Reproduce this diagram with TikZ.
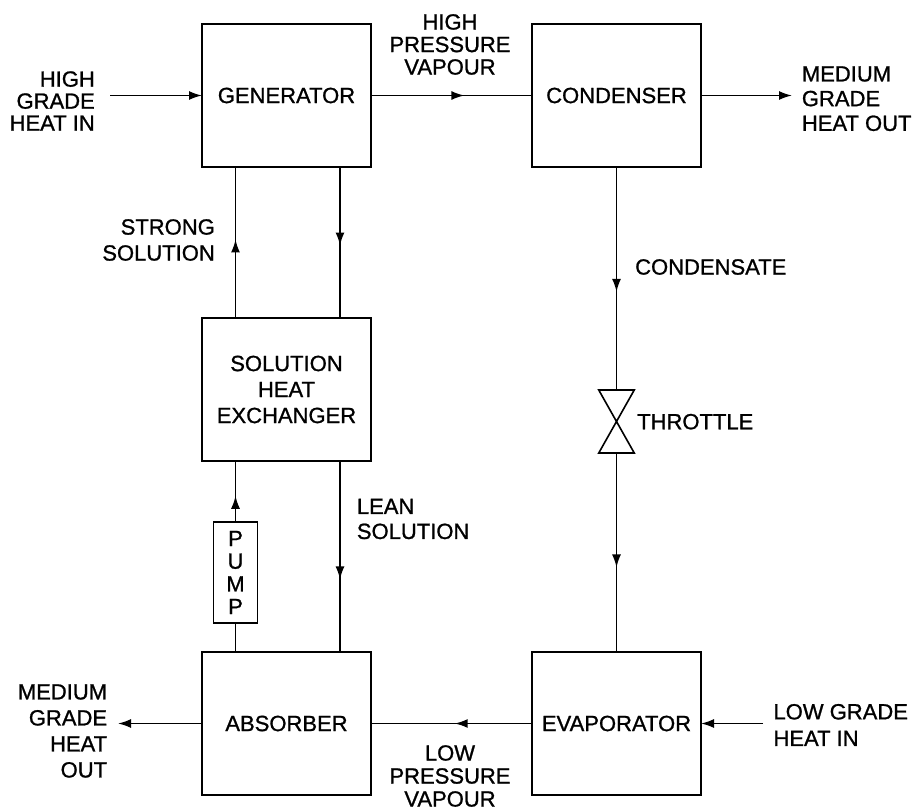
\documentclass[tikz,border=0pt]{standalone}
\usepackage{fontspec}
\setmainfont{Liberation Sans}[BoldFont={Liberation Sans},BoldFeatures={FakeBold=1.0}]
\usetikzlibrary{arrows.meta,decorations.markings}
\begin{document}
\begin{tikzpicture}[x=1pt,y=-1pt,
  every node/.style={font=\fontsize{22}{24}\selectfont\bfseries},
  box/.style={draw,line width=1.7pt,minimum width=169pt,minimum height=143pt,inner sep=0pt,outer sep=0pt,align=center},
  flow/.style={line width=1.6pt},
  tip/.style={-{Latex[length=13pt,width=9pt]}},
  midtip/.style={postaction={decorate},decoration={markings,mark=at position #1 with {\arrow{Latex[length=13pt,width=9pt]}}}},
  lbl/.style={inner sep=0pt}
]
\useasboundingbox (0,0) rectangle (913,811);

% main boxes
\node[box] (gen) at (286.5,95.5) {GENERATOR};
\node[box] (cond) at (616.5,95.5) {CONDENSER};
\node[box,font=\fontsize{22}{26}\selectfont\bfseries] (she) at (286.5,389.5) {SOLUTION\\HEAT\\EXCHANGER};
\node[box] (abs) at (286.5,723.5) {ABSORBER};
\node[box] (evap) at (616.5,723.5) {EVAPORATOR};
\node[draw,line width=1.6pt,minimum width=44pt,minimum height=101pt,inner sep=0pt,outer sep=0pt,align=center,font=\fontsize{22}{22.7}\selectfont\bfseries] (pump) at (235.5,572.5) {P\\U\\M\\P};

% throttle
\node[minimum width=35.5pt,minimum height=63pt,inner sep=0pt,outer sep=0pt] (thr) at (616.5,421.5) {};
\draw[flow] (thr.north west) -- (thr.north east) -- (thr.center) -- cycle;
\draw[flow] (thr.south west) -- (thr.south east) -- (thr.center) -- cycle;

% internal connectors
\draw[flow,midtip=0.58] (gen.east) -- (cond.west);
\draw[flow,midtip=0.48] (evap.west) -- (abs.east);
\draw[flow,midtip=0.56] (cond.south) -- (thr.north);
\draw[flow,midtip=0.575] (thr.south) -- (evap.north);
\draw[flow,midtip=0.52] ([xshift=33.5pt]she.north west) -- ([xshift=33.5pt]gen.south west);
\draw[flow,midtip=0.52] ([xshift=-31pt]gen.south east) -- ([xshift=-31pt]she.north east);
\draw[flow,midtip=0.43] (pump.north) -- (pump.north |- she.south);
\draw[flow] (pump.south |- abs.north) -- (pump.south);
\draw[flow,midtip=0.62] ([xshift=-31pt]she.south east) -- ([xshift=-31pt]abs.north east);

% external connectors
\coordinate (hin) at (110,95.5);
\coordinate (mout) at (792,95.5);
\coordinate (aout) at (118,723.5);
\coordinate (lin) at (763,723.5);
\draw[flow,tip] (hin) -- (gen.west);
\draw[flow,tip] (cond.east) -- (mout);
\draw[flow,tip] (abs.west) -- (aout);
\draw[flow,tip] (lin) -- (evap.east);

% labels
\node[lbl,anchor=east,align=right,font=\fontsize{22}{22}\selectfont\bfseries] (t1) at (95,101) {HIGH\\GRADE\\HEAT IN};
\node[lbl,align=center,font=\fontsize{22}{22.5}\selectfont\bfseries] (t2) at (450,44.5) {HIGH\\PRESSURE\\VAPOUR};
\node[lbl,anchor=west,align=left,font=\fontsize{22}{24.7}\selectfont\bfseries] (t3) at (801.7,98.7) {MEDIUM\\GRADE\\HEAT OUT};
\node[lbl,anchor=east,align=right,font=\fontsize{22}{26}\selectfont\bfseries] (t4) at (215,240) {STRONG\\SOLUTION};
\node[lbl,anchor=west] (t5) at (635,267) {CONDENSATE};
\node[lbl,anchor=west] (t6) at (637,421.7) {THROTTLE};
\node[lbl,anchor=west,align=left,font=\fontsize{22}{25}\selectfont\bfseries] (t7) at (356.7,519) {LEAN\\SOLUTION};
\node[lbl,anchor=east,align=right,font=\fontsize{22}{26}\selectfont\bfseries] (t8) at (107.3,731) {MEDIUM\\GRADE\\HEAT\\OUT};
\node[lbl,align=center,font=\fontsize{22}{23}\selectfont\bfseries] (t9) at (450,776) {LOW\\PRESSURE\\VAPOUR};
\node[lbl,anchor=west,align=left,font=\fontsize{22}{26.6}\selectfont\bfseries] (t10) at (773.3,725) {LOW GRADE\\HEAT IN};
\end{tikzpicture}
\end{document}
